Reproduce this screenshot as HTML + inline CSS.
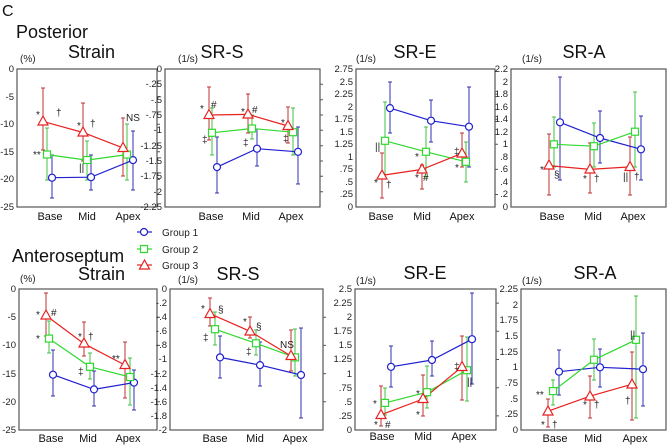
<!DOCTYPE html>
<html><head><meta charset="utf-8"><style>
html,body{margin:0;padding:0;background:#fff;}
svg{display:block;font-family:"Liberation Sans",Arial,sans-serif;}
.f{fill:none;stroke:#555;stroke-width:1.2}
.t{font-size:9.5px;fill:#222;text-anchor:end}
.c{font-size:11px;fill:#111;text-anchor:middle}
.h{font-size:18px;fill:#111}
.a{font-size:10px;fill:#222}
.r{stroke:#e82020;fill:none;stroke-width:1.2}
.g{stroke:#30d830;fill:none;stroke-width:1.2}
.b{stroke:#2020d0;fill:none;stroke-width:1.2}
.er{stroke:#c03030;stroke-width:1}
.eg{stroke:#40c040;stroke-width:1}
.eb{stroke:#3030b0;stroke-width:1}
.mr{stroke:#e82020;fill:#fff;stroke-width:1.2}
.mg{stroke:#30d830;fill:#fff;stroke-width:1.2}
.mb{stroke:#2020d0;fill:#fff;stroke-width:1.2}
</style></head><body>
<svg width="669" height="446" viewBox="0 0 669 446">
<text x="2" y="16" class="h" style="font-size:16px">C</text>
<text x="16" y="38" class="h">Posterior</text>
<text x="68" y="58" class="h">Strain</text>
<text x="222" y="58" class="h" text-anchor="middle">SR-S</text>
<text x="415" y="58" class="h" text-anchor="middle">SR-E</text>
<text x="584" y="58" class="h" text-anchor="middle">SR-A</text>
<text x="12" y="262" class="h">Anteroseptum</text>
<text x="78" y="280" class="h">Strain</text>
<text x="238" y="280" class="h" text-anchor="middle">SR-S</text>
<text x="425" y="279" class="h" text-anchor="middle">SR-E</text>
<text x="595" y="279" class="h" text-anchor="middle">SR-A</text>

<!-- legend -->
<line x1="137" y1="232" x2="152" y2="232" class="b"/><circle cx="144" cy="232" r="3.5" class="mb"/>
<text x="162" y="236" class="a">Group 1</text>
<line x1="137" y1="249" x2="152" y2="249" class="g"/><rect x="140.5" y="245.5" width="7" height="7" class="mg"/>
<text x="162" y="253" class="a">Group 2</text>
<line x1="137" y1="265" x2="152" y2="265" class="r"/><polygon points="144.5,260 139.5,269 149.5,269" class="mr"/>
<text x="162" y="269" class="a">Group 3</text>

<!-- Panel 1 -->
<rect x="17" y="69" width="140" height="138" class="f"/>
<g class="t"><text x="14" y="72">0</text><text x="14" y="100">-5</text><text x="14" y="127">-10</text><text x="14" y="155">-15</text><text x="14" y="182">-20</text><text x="14" y="210">-25</text></g>
<path d="M157 96.6h3M157 124.2h3M157 151.8h3M157 179.4h3" stroke="#555"/>
<text x="20" y="62" class="a">(%)</text>
<g class="c"><text x="50" y="220">Base</text><text x="87" y="220">Mid</text><text x="128" y="220">Apex</text></g>
<path d="M43 88V150M41 88h4M41 150h4M83 103V161M81 103h4M81 161h4M123 118V176M121 118h4M121 176h4" class="er"/>
<path d="M47 128V180M45 128h4M45 180h4M87 141V180M85 141h4M85 180h4M127 124V180M125 124h4M125 180h4" class="eg"/>
<path d="M52 155V198M50 155h4M50 198h4M91 155V190M89 155h4M89 190h4M133 131V190M131 131h4M131 190h4" class="eb"/>
<polyline points="52,177.7 91,177.2 133,160.1" class="b"/>
<polyline points="47,154.6 87,160.1 127,154.6" class="g"/>
<polyline points="43,121.4 83,132.5 123,147.9" class="r"/>
<circle cx="52" cy="177.7" r="3.5" class="mb"/><circle cx="91" cy="177.2" r="3.5" class="mb"/><circle cx="133" cy="160.1" r="3.5" class="mb"/>
<rect x="43.5" y="151" width="7" height="7" class="mg"/><rect x="83.5" y="156.5" width="7" height="7" class="mg"/><rect x="123.5" y="151" width="7" height="7" class="mg"/>
<polygon points="43,116 38,125 48,125" class="mr"/><polygon points="83,127 78,136 88,136" class="mr"/><polygon points="123,142.5 118,151.5 128,151.5" class="mr"/>
<g class="a"><text x="36" y="118">*</text><text x="56" y="116">†</text><text x="77" y="129">*</text><text x="90" y="127">†</text><text x="126" y="121">NS</text><text x="33" y="158">**</text><text x="79" y="171">||</text></g>

<!-- Panel 2 -->
<rect x="165" y="69" width="155" height="138" class="f"/>
<g class="t"><text x="162" y="72">0</text><text x="162" y="87">-.25</text><text x="162" y="103">-.5</text><text x="162" y="118">-.75</text><text x="162" y="133">-1</text><text x="162" y="149">-1.25</text><text x="162" y="164">-1.5</text><text x="162" y="179">-1.75</text><text x="162" y="195">-2</text><text x="162" y="210">-2.25</text></g>
<path d="M320 84.3h3M320 99.7h3M320 115h3M320 130.3h3M320 145.7h3M320 161h3M320 176.3h3M320 191.7h3" stroke="#555"/>
<text x="178" y="62" class="a">(1/s)</text>
<g class="c"><text x="211" y="220">Base</text><text x="251" y="220">Mid</text><text x="291" y="220">Apex</text></g>
<path d="M209 87V140M207 87h4M207 140h4M248 94V133M246 94h4M246 133h4M288 107V143M286 107h4M286 143h4" class="er"/>
<path d="M212 108V155M210 108h4M210 155h4M252 115V139M250 115h4M250 139h4M293 108V155M291 108h4M291 155h4" class="eg"/>
<path d="M217 137V193M215 137h4M215 193h4M257 129V166M255 129h4M255 166h4M298 127V184M296 127h4M296 184h4" class="eb"/>
<polyline points="217,167.1 257,148.7 298,151.8" class="b"/>
<polyline points="212,132.8 252,128.5 293,132.2" class="g"/>
<polyline points="209,115 248,114.4 288,126" class="r"/>
<circle cx="217" cy="167.1" r="3.5" class="mb"/><circle cx="257" cy="148.7" r="3.5" class="mb"/><circle cx="298" cy="151.8" r="3.5" class="mb"/>
<rect x="208.5" y="129.3" width="7" height="7" class="mg"/><rect x="248.5" y="125" width="7" height="7" class="mg"/><rect x="289.5" y="128.7" width="7" height="7" class="mg"/>
<polygon points="209,109.5 204,118.5 214,118.5" class="mr"/><polygon points="248,109 243,118 253,118" class="mr"/><polygon points="288,120.5 283,129.5 293,129.5" class="mr"/>
<g class="a"><text x="200" y="112">*</text><text x="211" y="108">#</text><text x="241" y="115">*</text><text x="252" y="113">#</text><text x="281" y="126">*</text><text x="202" y="143">‡</text><text x="243" y="146">‡</text><text x="283" y="142">‡</text></g>

<!-- Panel 3 -->
<rect x="356" y="69" width="139" height="138" class="f"/>
<g class="t"><text x="353" y="210">0</text><text x="353" y="197">.25</text><text x="353" y="185">.5</text><text x="353" y="172">.75</text><text x="353" y="160">1</text><text x="353" y="147">1.25</text><text x="353" y="135">1.5</text><text x="353" y="122">1.75</text><text x="353" y="110">2</text><text x="353" y="97">2.25</text><text x="353" y="85">2.5</text><text x="353" y="72">2.75</text></g>
<path d="M495 94.1h3M495 119.2h3M495 144.3h3M495 169.4h3M495 194.5h3" stroke="#555"/>
<text x="356" y="62" class="a">(1/s)</text>
<g class="c"><text x="381" y="220">Base</text><text x="422" y="220">Mid</text><text x="462" y="220">Apex</text></g>
<path d="M382 153V198M380 153h4M380 198h4M422 165V189M420 165h4M420 189h4M462 133V167M460 133h4M460 167h4" class="er"/>
<path d="M385 102V178M383 102h4M383 178h4M426 127V177M424 127h4M424 177h4M466 142V182M464 142h4M464 182h4" class="eg"/>
<path d="M390 82V133M388 82h4M388 133h4M431 100V142M429 100h4M429 142h4M469 87V167M467 87h4M467 167h4" class="eb"/>
<polyline points="390,108.1 431,120.7 469,126.7" class="b"/>
<polyline points="385,140.8 426,151.8 466,161.8" class="g"/>
<polyline points="382,175.4 422,169.4 462,153.3" class="r"/>
<circle cx="390" cy="108.1" r="3.5" class="mb"/><circle cx="431" cy="120.7" r="3.5" class="mb"/><circle cx="469" cy="126.7" r="3.5" class="mb"/>
<rect x="381.5" y="137.3" width="7" height="7" class="mg"/><rect x="422.5" y="148.3" width="7" height="7" class="mg"/><rect x="462.5" y="158.3" width="7" height="7" class="mg"/>
<polygon points="382,170 377,179 387,179" class="mr"/><polygon points="422,164 417,173 427,173" class="mr"/><polygon points="462,148 457,157 467,157" class="mr"/>
<g class="a"><text x="374" y="186">*</text><text x="386" y="188">†</text><text x="415" y="181">*</text><text x="423" y="181">#</text><text x="415" y="160">*</text><text x="455" y="171">*</text><text x="454" y="155">‡</text><text x="375" y="150">||</text></g>

<!-- Panel 4 -->
<rect x="511" y="69" width="155" height="138" class="f"/>
<g class="t"><text x="508" y="210">0</text><text x="508" y="197">.2</text><text x="508" y="185">.4</text><text x="508" y="172">.6</text><text x="508" y="160">.8</text><text x="508" y="147">1</text><text x="508" y="135">1.2</text><text x="508" y="122">1.4</text><text x="508" y="110">1.6</text><text x="508" y="97">1.8</text><text x="508" y="85">2</text><text x="508" y="72">2.2</text></g>
<text x="522" y="62" class="a">(1/s)</text>
<g class="c"><text x="552" y="220">Base</text><text x="593" y="220">Mid</text><text x="633" y="220">Apex</text></g>
<path d="M549 134V195M547 134h4M547 195h4M590 143V193M588 143h4M588 193h4M630 137V195M628 137h4M628 195h4" class="er"/>
<path d="M554 117V167M552 117h4M552 167h4M594 123V167M592 123h4M592 167h4M635 92V167M633 92h4M633 167h4" class="eg"/>
<path d="M560 77V180M558 77h4M558 180h4M600 111V163M598 111h4M598 163h4M641 116V180M639 116h4M639 180h4" class="eb"/>
<polyline points="560,122.3 600,138 641,149.3" class="b"/>
<polyline points="554,144.3 594,146.2 635,131.7" class="g"/>
<polyline points="549,165.6 590,169.4 630,166.9" class="r"/>
<circle cx="560" cy="122.3" r="3.5" class="mb"/><circle cx="600" cy="138" r="3.5" class="mb"/><circle cx="641" cy="149.3" r="3.5" class="mb"/>
<rect x="550.5" y="140.8" width="7" height="7" class="mg"/><rect x="590.5" y="142.7" width="7" height="7" class="mg"/><rect x="631.5" y="128.2" width="7" height="7" class="mg"/>
<polygon points="549,160 544,169 554,169" class="mr"/><polygon points="590,164 585,173 595,173" class="mr"/><polygon points="630,161.5 625,170.5 635,170.5" class="mr"/>
<g class="a"><text x="540" y="173">*</text><text x="554" y="178">§</text><text x="583" y="182">*</text><text x="594" y="182">†</text><text x="623" y="180">||</text><text x="634" y="180">†</text></g>

<!-- Panel 5 -->
<rect x="19" y="289" width="138" height="141" class="f"/>
<g class="t"><text x="16" y="292">0</text><text x="16" y="320">-5</text><text x="16" y="348">-10</text><text x="16" y="377">-15</text><text x="16" y="405">-20</text><text x="16" y="433">-25</text></g>
<path d="M157 317.2h3M157 345.4h3M157 373.6h3M157 401.8h3" stroke="#555"/>
<text x="20" y="282" class="a">(%)</text>
<g class="c"><text x="51" y="442">Base</text><text x="88" y="442">Mid</text><text x="128" y="442">Apex</text></g>
<path d="M46 293V336M44 293h4M44 336h4M84 322V356M82 322h4M82 356h4M125 342V398M123 342h4M123 398h4" class="er"/>
<path d="M49 321V353M47 321h4M47 353h4M90 353V379M88 353h4M88 379h4M130 358V405M128 358h4M128 405h4" class="eg"/>
<path d="M53 350V396M51 350h4M51 396h4M94 371V406M92 371h4M92 406h4M134 370V410M132 370h4M132 410h4" class="eb"/>
<polyline points="53,374.7 94,389.4 134,382.6" class="b"/>
<polyline points="49,338.6 90,366.8 130,377" class="g"/>
<polyline points="46,315.5 84,343.7 125,365.1" class="r"/>
<circle cx="53" cy="374.7" r="3.5" class="mb"/><circle cx="94" cy="389.4" r="3.5" class="mb"/><circle cx="134" cy="382.6" r="3.5" class="mb"/>
<rect x="45.5" y="335.1" width="7" height="7" class="mg"/><rect x="86.5" y="363.3" width="7" height="7" class="mg"/><rect x="126.5" y="373.5" width="7" height="7" class="mg"/>
<polygon points="46,310 41,319 51,319" class="mr"/><polygon points="84,338 79,347 89,347" class="mr"/><polygon points="125,359.5 120,368.5 130,368.5" class="mr"/>
<g class="a"><text x="36" y="318">*</text><text x="51" y="316">#</text><text x="36" y="342">*</text><text x="78" y="340">*</text><text x="88" y="340">†</text><text x="112" y="362">**</text><text x="78" y="375">‡</text></g>

<!-- Panel 6 -->
<rect x="170" y="289" width="153" height="141" class="f"/>
<g class="t"><text x="167" y="292">0</text><text x="167" y="306">-.2</text><text x="167" y="320">-.4</text><text x="167" y="334">-.6</text><text x="167" y="348">-.8</text><text x="167" y="362">-1</text><text x="167" y="377">-1.2</text><text x="167" y="391">-1.4</text><text x="167" y="405">-1.6</text><text x="167" y="419">-1.8</text><text x="167" y="433">-2</text></g>
<path d="M323 317.2h3M323 345.4h3M323 373.6h3M323 401.8h3" stroke="#555"/>
<text x="178" y="283" class="a">(1/s)</text>
<g class="c"><text x="215" y="442">Base</text><text x="255" y="442">Mid</text><text x="295" y="442">Apex</text></g>
<path d="M210 298V326M208 298h4M208 326h4M250 317V338M248 317h4M248 338h4M291 330V371M289 330h4M289 371h4" class="er"/>
<path d="M215 312V345M213 312h4M213 345h4M256 330V355M254 330h4M254 355h4M295 329V376M293 329h4M293 376h4" class="eg"/>
<path d="M220 336V378M218 336h4M218 378h4M260 342V386M258 342h4M258 386h4M301 328V418M299 328h4M299 418h4" class="eb"/>
<polyline points="220,357.4 260,365.1 301,375" class="b"/>
<polyline points="215,329.2 256,343.3 295,357.4" class="g"/>
<polyline points="210,313.7 250,331.3 291,356" class="r"/>
<circle cx="220" cy="357.4" r="3.5" class="mb"/><circle cx="260" cy="365.1" r="3.5" class="mb"/><circle cx="301" cy="375" r="3.5" class="mb"/>
<rect x="211.5" y="325.7" width="7" height="7" class="mg"/><rect x="252.5" y="339.8" width="7" height="7" class="mg"/><rect x="291.5" y="353.9" width="7" height="7" class="mg"/>
<polygon points="210,308.5 205,317.5 215,317.5" class="mr"/><polygon points="250,326 245,335 255,335" class="mr"/><polygon points="291,350.5 286,359.5 296,359.5" class="mr"/>
<g class="a"><text x="201" y="312">*</text><text x="218" y="313">§</text><text x="243" y="325">*</text><text x="256" y="330">§</text><text x="280" y="348">NS</text><text x="203" y="341">‡</text><text x="246" y="355">‡</text></g>

<!-- Panel 7 -->
<rect x="355" y="289" width="141" height="141" class="f"/>
<g class="t"><text x="352" y="433">0</text><text x="352" y="419">.25</text><text x="352" y="405">.5</text><text x="352" y="391">.75</text><text x="352" y="377">1</text><text x="352" y="362">1.25</text><text x="352" y="348">1.5</text><text x="352" y="334">1.75</text><text x="352" y="320">2</text><text x="352" y="306">2.25</text><text x="352" y="292">2.5</text></g>
<path d="M496 303.1h3M496 331.3h3M496 359.5h3M496 387.7h3M496 415.9h3" stroke="#555"/>
<text x="356" y="284" class="a">(1/s)</text>
<g class="c"><text x="382" y="440">Base</text><text x="423" y="440">Mid</text><text x="464" y="440">Apex</text></g>
<path d="M381 386V426M379 386h4M379 426h4M423 375V416M421 375h4M421 416h4M462 336V400M460 336h4M460 400h4" class="er"/>
<path d="M385 388V415M383 388h4M383 415h4M427 366V408M425 366h4M425 408h4M467 337V401M465 337h4M465 401h4" class="eg"/>
<path d="M391 346V387M389 346h4M389 387h4M432 341V376M430 341h4M430 376h4M472 293V384M470 293h4M470 384h4" class="eb"/>
<polyline points="391,366.8 432,360 472,339.2" class="b"/>
<polyline points="385,402.9 427,392.2 467,370.2" class="g"/>
<polyline points="381,414.8 423,399 462,366.8" class="r"/>
<circle cx="391" cy="366.8" r="3.5" class="mb"/><circle cx="432" cy="360" r="3.5" class="mb"/><circle cx="472" cy="339.2" r="3.5" class="mb"/>
<rect x="381.5" y="399.4" width="7" height="7" class="mg"/><rect x="423.5" y="388.7" width="7" height="7" class="mg"/><rect x="463.5" y="366.7" width="7" height="7" class="mg"/>
<polygon points="381,409.5 376,418.5 386,418.5" class="mr"/><polygon points="423,393.5 418,402.5 428,402.5" class="mr"/><polygon points="462,361.5 457,370.5 467,370.5" class="mr"/>
<g class="a"><text x="373" y="407">*</text><text x="374" y="428">*</text><text x="385" y="428">#</text><text x="416" y="397">*</text><text x="416" y="418">*</text><text x="454" y="370">‡</text><text x="467" y="385">||</text></g>

<!-- Panel 8 -->
<rect x="521" y="289" width="145" height="141" class="f"/>
<g class="t"><text x="518" y="433">0</text><text x="518" y="417">.25</text><text x="518" y="402">.5</text><text x="518" y="386">.75</text><text x="518" y="370">1</text><text x="518" y="355">1.25</text><text x="518" y="339">1.5</text><text x="518" y="323">1.75</text><text x="518" y="308">2</text><text x="518" y="292">2.25</text></g>
<text x="522" y="284" class="a">(1/s)</text>
<g class="c"><text x="555" y="442">Base</text><text x="593" y="442">Mid</text><text x="635" y="442">Apex</text></g>
<path d="M548 399V427M546 399h4M546 427h4M590 376V418M588 376h4M588 418h4M632 352V420M630 352h4M630 420h4" class="er"/>
<path d="M553 380V405M551 380h4M551 405h4M594 339V380M592 339h4M592 380h4M636 296V418M634 296h4M634 418h4" class="eg"/>
<path d="M559 350V395M557 350h4M557 395h4M600 349V387M598 349h4M598 387h4M643 333V406M641 333h4M641 406h4" class="eb"/>
<polyline points="559,371.7 600,367.3 643,369.2" class="b"/>
<polyline points="553,391.1 594,359.8 636,339.8" class="g"/>
<polyline points="548,411.2 590,396.2 632,384.2" class="r"/>
<circle cx="559" cy="371.7" r="3.5" class="mb"/><circle cx="600" cy="367.3" r="3.5" class="mb"/><circle cx="643" cy="369.2" r="3.5" class="mb"/>
<rect x="549.5" y="387.6" width="7" height="7" class="mg"/><rect x="590.5" y="356.3" width="7" height="7" class="mg"/><rect x="632.5" y="336.3" width="7" height="7" class="mg"/>
<polygon points="548,406 543,415 553,415" class="mr"/><polygon points="590,391 585,400 595,400" class="mr"/><polygon points="632,379 627,388 637,388" class="mr"/>
<g class="a"><text x="536" y="398">**</text><text x="541" y="428">*</text><text x="552" y="428">†</text><text x="583" y="408">*</text><text x="594" y="408">†</text><text x="625" y="404">†</text><text x="630" y="338">||</text></g>
</svg>
</body></html>
